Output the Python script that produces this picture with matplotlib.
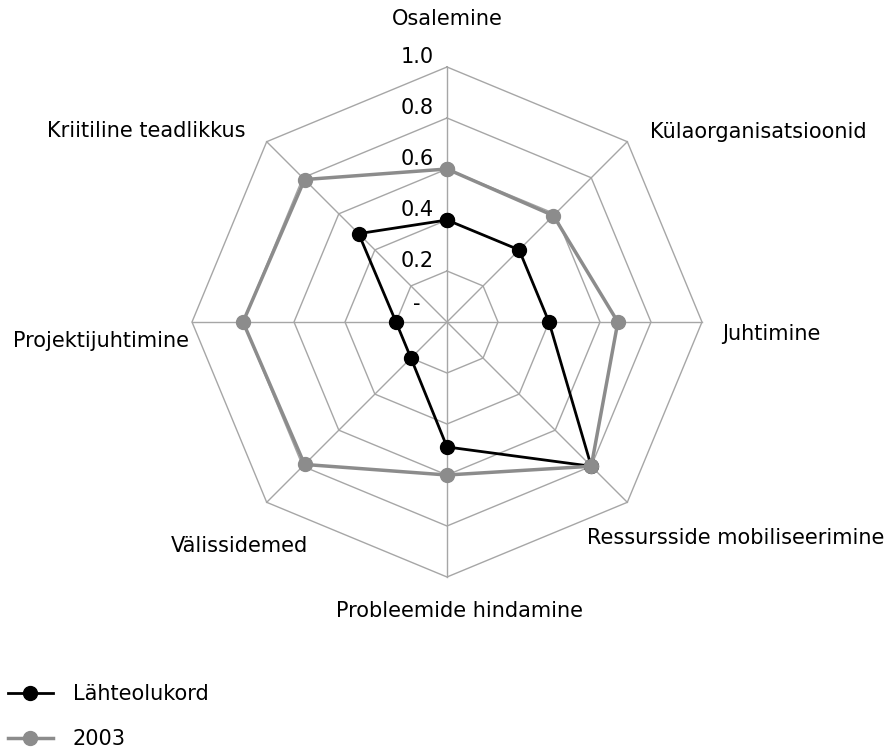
import numpy as np
import matplotlib
matplotlib.use("Agg")
import matplotlib.pyplot as plt

categories = ["Osalemine", "Külaorganisatsioonid", "Juhtimine",
              "Ressursside mobiliseerimine", "Probleemide hindamine",
              "Välissidemed", "Projektijuhtimine", "Kriitiline teadlikkus"]
levels = [0.2, 0.4, 0.6, 0.8, 1.0]
tick_values = [0.0, 0.2, 0.4, 0.6, 0.8, 1.0]
tick_labels = ["-", "0.2", "0.4", "0.6", "0.8", "1.0"]
base_values = [0.40, 0.40, 0.40, 0.80, 0.49, 0.20, 0.20, 0.49]
values_2003 = [0.60, 0.59, 0.67, 0.80, 0.60, 0.79, 0.80, 0.79]
series_names = ["Lähteolukord", "2003"]

GRID = "#a6a6a6"
GREY = "#8c8c8c"
plt.rcParams["font.family"] = ["DejaVu Sans"]
FS = 15

# label offsets (pixels) from each outer vertex
label_offsets = [(0, 48), (131, 10), (69, -12), (108, -36),
                 (13, -34), (-27, -44), (-91, -19), (-120, 11)]

fig = plt.figure(figsize=(8.96, 7.48), dpi=100)
ax = fig.add_axes([192 / 896, 171 / 748, 510 / 896, 510 / 748], projection="polar")
ax.set_theta_offset(np.pi / 2)
ax.set_theta_direction(-1)
ax.set_ylim(0, 1)
ax.grid(False)
ax.spines["polar"].set_visible(False)
ax.set_xticks([])
ax.set_yticks([])

n = len(categories)
theta = np.arange(n) * 2 * np.pi / n
closed = np.append(theta, theta[0])

for lv in levels:
    ax.plot(closed, [lv] * (n + 1), color=GRID, lw=1, zorder=1, clip_on=False)
for t in theta:
    ax.plot([t, t], [0, 1], color=GRID, lw=1, zorder=1, clip_on=False)

l1, = ax.plot(closed, base_values + base_values[:1], color="black", lw=2.0,
              marker="o", ms=10, mec="black", mfc="black", zorder=3, clip_on=False)
l2, = ax.plot(closed, values_2003 + values_2003[:1], color=GREY, lw=2.5,
              marker="o", ms=10, mec=GREY, mfc=GREY, zorder=4, clip_on=False)

for v, s in zip(tick_values, tick_labels):
    dx = -26 if s == "-" else -13
    ax.annotate(s, (0, v), xytext=(dx, 10 if s != "-" else 18),
                textcoords="offset pixels", ha="right", va="center", fontsize=FS)

for t, name, (dx, dy) in zip(theta, categories, label_offsets):
    ax.annotate(name, (t, 1.0), xytext=(dx, dy), textcoords="offset pixels",
                ha="center", va="center", fontsize=FS, annotation_clip=False)

fig.legend([l1, l2], series_names, loc="upper left",
           bbox_to_anchor=(8 / 896, 1 - 684 / 748), frameon=False,
           borderpad=0, borderaxespad=0, handlelength=2.15, handletextpad=0.96,
           labelspacing=1.2, fontsize=FS)

fig.savefig("out.png", dpi=100)
